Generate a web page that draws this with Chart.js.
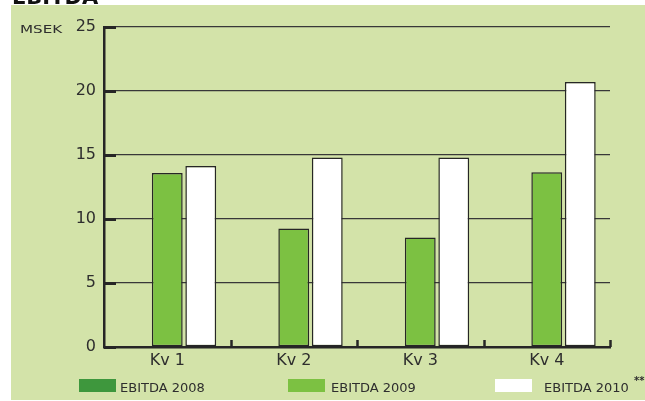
<!DOCTYPE html>
<html>
<head>
<meta charset="utf-8">
<script src="https://cdn.jsdelivr.net/npm/chart.js@4/dist/chart.umd.min.js"></script>
<style>
  html, body { margin: 0; padding: 0; background: #ffffff; }
  canvas { display: block; }
</style>
</head>
<body>
<canvas id="c" width="645" height="401"></canvas>
<script>
// Quarterly EBITDA, MSEK
const categories = ['Kv 1', 'Kv 2', 'Kv 3', 'Kv 4'];
const ebitda2008 = [null, null, null, null];
const ebitda2009 = [13.6, 9.25, 8.55, 13.65];
const ebitda2010 = [14.15, 14.8, 14.8, 20.7];
const yTicks = [0, 5, 10, 15, 20, 25];
const seriesLabels = ['EBITDA 2008', 'EBITDA 2009', 'EBITDA 2010'];

const PANEL = '#d3e3a9';
const INK = '#262626';
const TEXT = '#2e2e2e';
const FONT = '"DejaVu Sans", sans-serif';

// panel background and the heading above it
const backdrop = {
  id: 'backdrop',
  beforeDraw(chart) {
    const ctx = chart.ctx;
    ctx.save();
    ctx.fillStyle = '#ffffff';
    ctx.fillRect(0, 0, chart.width, chart.height);
    ctx.fillStyle = '#111111';
    ctx.font = 'bold 21px ' + FONT;
    ctx.textBaseline = 'alphabetic';
    ctx.fillText('EBITDA', 12, 4);
    ctx.fillStyle = PANEL;
    ctx.fillRect(11, 5, chart.width - 11, 395);
    ctx.restore();
  }
};

// unit caption, inner tick marks and legend
const decorations = {
  id: 'decorations',
  afterDraw(chart) {
    const ctx = chart.ctx;
    const area = chart.chartArea;
    const y = chart.scales.y;
    const x = chart.scales.x;
    ctx.save();

    // thick tick marks inside the value axis
    ctx.strokeStyle = INK;
    ctx.lineWidth = 3;
    yTicks.forEach(v => {
      const py = Math.round(y.getPixelForValue(v)) + 0.5;
      ctx.beginPath();
      ctx.moveTo(area.left, py);
      ctx.lineTo(area.left + 12, py);
      ctx.stroke();
    });

    // short ticks between quarters on the category axis
    ctx.lineWidth = 2.5;
    const step = x.getPixelForValue(1) - x.getPixelForValue(0);
    for (let i = 0; i < categories.length; i++) {
      const px = Math.round(x.getPixelForValue(i) + step / 2) + 0.5;
      ctx.beginPath();
      ctx.moveTo(px, area.bottom);
      ctx.lineTo(px, area.bottom - 7);
      ctx.stroke();
    }

    // unit caption next to the top value
    ctx.fillStyle = TEXT;
    ctx.font = '11px ' + FONT;
    ctx.textBaseline = 'alphabetic';
    ctx.save();
    ctx.translate(20, y.getPixelForValue(25) + 6);
    ctx.scale(1.38, 1);
    ctx.fillText('MSEK', 0, 0);
    ctx.restore();

    // legend
    const items = [
      { box: 79, text: 120 },
      { box: 288, text: 331 },
      { box: 495, text: 544 }
    ];
    ctx.font = '13px ' + FONT;
    chart.data.datasets.forEach((ds, i) => {
      const it = items[i];
      ctx.fillStyle = ds.legendColor;
      ctx.fillRect(it.box, 379, 37, 13);
      ctx.fillStyle = TEXT;
      ctx.fillText(ds.label, it.text, 392);
    });
    ctx.font = 'bold 10px ' + FONT;
    ctx.fillText('**', 634, 384);

    ctx.restore();
  }
};

new Chart(document.getElementById('c'), {
  type: 'bar',
  data: {
    labels: categories,
    datasets: [
      {
        label: seriesLabels[0],
        data: ebitda2008,
        backgroundColor: '#3e973d',
        legendColor: '#3e973d',
        borderColor: INK,
        borderWidth: 1.5,
        borderSkipped: false
      },
      {
        label: seriesLabels[1],
        data: ebitda2009,
        backgroundColor: '#7cc142',
        legendColor: '#7cc142',
        borderColor: INK,
        borderWidth: 1.5,
        borderSkipped: false
      },
      {
        label: seriesLabels[2],
        data: ebitda2010,
        backgroundColor: '#ffffff',
        legendColor: '#ffffff',
        borderColor: INK,
        borderWidth: 1.5,
        borderSkipped: false
      }
    ]
  },
  options: {
    responsive: false,
    animation: false,
    devicePixelRatio: 1,
    categoryPercentage: 0.795,
    barPercentage: 0.92,
    layout: { padding: { left: 0, right: 35, top: 27, bottom: 0 } },
    plugins: {
      legend: { display: false },
      tooltip: { enabled: false },
      title: { display: false }
    },
    scales: {
      x: {
        grid: { display: false },
        border: { display: true, color: INK, width: 2.5 },
        ticks: {
          color: TEXT,
          font: { family: FONT, size: 16 },
          padding: -4
        },
        afterFit(s) { s.height = 54; }
      },
      y: {
        min: 0,
        max: 25,
        afterBuildTicks(s) { s.ticks = yTicks.map(v => ({ value: v })); },
        grid: { color: '#383838', lineWidth: 1.3, drawTicks: false },
        border: { display: true, color: INK, width: 2.5 },
        ticks: {
          color: TEXT,
          font: { family: FONT, size: 16 },
          padding: 8
        },
        afterFit(s) { s.width = 104; }
      }
    }
  },
  plugins: [backdrop, decorations]
});
</script>
</body>
</html>
